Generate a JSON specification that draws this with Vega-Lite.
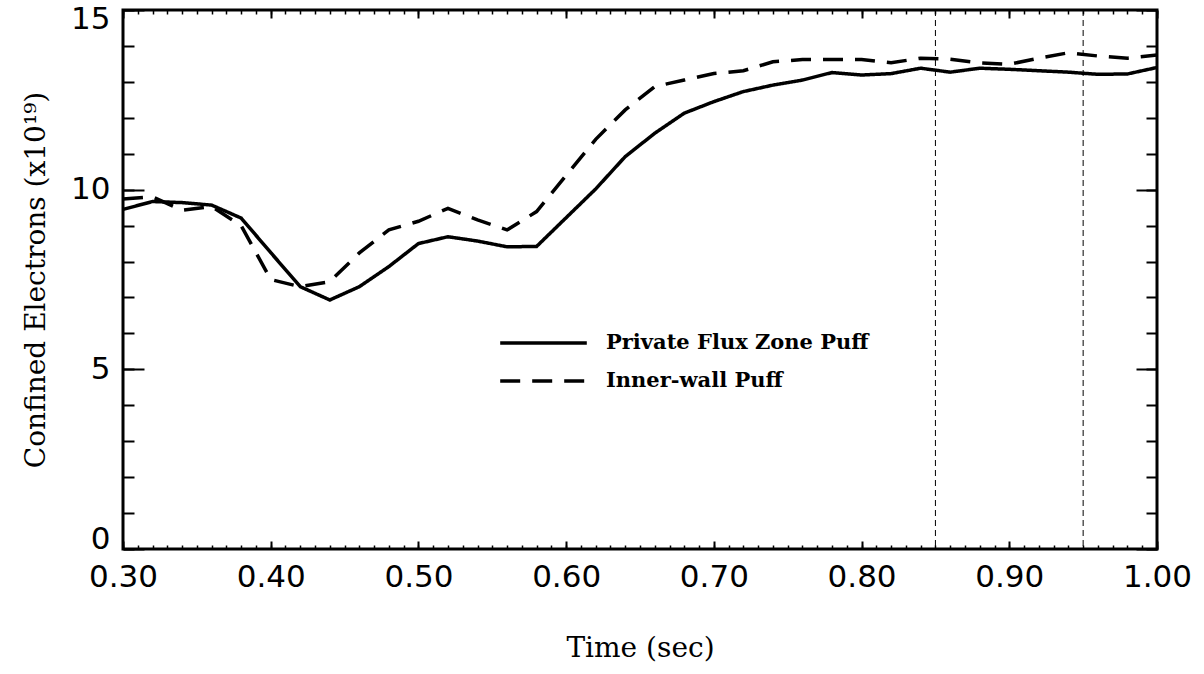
{
  "$schema": "https://vega.github.io/schema/vega-lite/v6.json",
  "width": 1034,
  "height": 539,
  "autosize": {"type": "none"},
  "padding": {"left": 123, "top": 10, "right": 47, "bottom": 125},
  "background": "white",
  "datasets": {
    "series": [
      {"t": 0.30, "n": 9.45, "s": "Private Flux Zone Puff"},
      {"t": 0.32, "n": 9.67, "s": "Private Flux Zone Puff"},
      {"t": 0.34, "n": 9.64, "s": "Private Flux Zone Puff"},
      {"t": 0.36, "n": 9.57, "s": "Private Flux Zone Puff"},
      {"t": 0.38, "n": 9.21, "s": "Private Flux Zone Puff"},
      {"t": 0.40, "n": 8.25, "s": "Private Flux Zone Puff"},
      {"t": 0.42, "n": 7.30, "s": "Private Flux Zone Puff"},
      {"t": 0.44, "n": 6.93, "s": "Private Flux Zone Puff"},
      {"t": 0.46, "n": 7.30, "s": "Private Flux Zone Puff"},
      {"t": 0.48, "n": 7.86, "s": "Private Flux Zone Puff"},
      {"t": 0.50, "n": 8.50, "s": "Private Flux Zone Puff"},
      {"t": 0.52, "n": 8.69, "s": "Private Flux Zone Puff"},
      {"t": 0.54, "n": 8.57, "s": "Private Flux Zone Puff"},
      {"t": 0.56, "n": 8.41, "s": "Private Flux Zone Puff"},
      {"t": 0.58, "n": 8.42, "s": "Private Flux Zone Puff"},
      {"t": 0.60, "n": 9.22, "s": "Private Flux Zone Puff"},
      {"t": 0.62, "n": 10.02, "s": "Private Flux Zone Puff"},
      {"t": 0.64, "n": 10.92, "s": "Private Flux Zone Puff"},
      {"t": 0.66, "n": 11.57, "s": "Private Flux Zone Puff"},
      {"t": 0.68, "n": 12.13, "s": "Private Flux Zone Puff"},
      {"t": 0.70, "n": 12.45, "s": "Private Flux Zone Puff"},
      {"t": 0.72, "n": 12.73, "s": "Private Flux Zone Puff"},
      {"t": 0.74, "n": 12.91, "s": "Private Flux Zone Puff"},
      {"t": 0.76, "n": 13.05, "s": "Private Flux Zone Puff"},
      {"t": 0.78, "n": 13.26, "s": "Private Flux Zone Puff"},
      {"t": 0.80, "n": 13.19, "s": "Private Flux Zone Puff"},
      {"t": 0.82, "n": 13.23, "s": "Private Flux Zone Puff"},
      {"t": 0.84, "n": 13.38, "s": "Private Flux Zone Puff"},
      {"t": 0.86, "n": 13.27, "s": "Private Flux Zone Puff"},
      {"t": 0.88, "n": 13.38, "s": "Private Flux Zone Puff"},
      {"t": 0.90, "n": 13.35, "s": "Private Flux Zone Puff"},
      {"t": 0.92, "n": 13.31, "s": "Private Flux Zone Puff"},
      {"t": 0.94, "n": 13.27, "s": "Private Flux Zone Puff"},
      {"t": 0.96, "n": 13.21, "s": "Private Flux Zone Puff"},
      {"t": 0.98, "n": 13.22, "s": "Private Flux Zone Puff"},
      {"t": 1.00, "n": 13.40, "s": "Private Flux Zone Puff"},
      {"t": 0.30, "n": 9.74, "s": "Inner-wall Puff"},
      {"t": 0.32, "n": 9.80, "s": "Inner-wall Puff"},
      {"t": 0.34, "n": 9.43, "s": "Inner-wall Puff"},
      {"t": 0.36, "n": 9.53, "s": "Inner-wall Puff"},
      {"t": 0.38, "n": 9.00, "s": "Inner-wall Puff"},
      {"t": 0.40, "n": 7.50, "s": "Inner-wall Puff"},
      {"t": 0.42, "n": 7.30, "s": "Inner-wall Puff"},
      {"t": 0.44, "n": 7.44, "s": "Inner-wall Puff"},
      {"t": 0.46, "n": 8.24, "s": "Inner-wall Puff"},
      {"t": 0.48, "n": 8.88, "s": "Inner-wall Puff"},
      {"t": 0.50, "n": 9.12, "s": "Inner-wall Puff"},
      {"t": 0.52, "n": 9.48, "s": "Inner-wall Puff"},
      {"t": 0.54, "n": 9.16, "s": "Inner-wall Puff"},
      {"t": 0.56, "n": 8.88, "s": "Inner-wall Puff"},
      {"t": 0.58, "n": 9.39, "s": "Inner-wall Puff"},
      {"t": 0.60, "n": 10.40, "s": "Inner-wall Puff"},
      {"t": 0.62, "n": 11.40, "s": "Inner-wall Puff"},
      {"t": 0.64, "n": 12.22, "s": "Inner-wall Puff"},
      {"t": 0.66, "n": 12.87, "s": "Inner-wall Puff"},
      {"t": 0.68, "n": 13.05, "s": "Inner-wall Puff"},
      {"t": 0.70, "n": 13.23, "s": "Inner-wall Puff"},
      {"t": 0.72, "n": 13.31, "s": "Inner-wall Puff"},
      {"t": 0.74, "n": 13.56, "s": "Inner-wall Puff"},
      {"t": 0.76, "n": 13.62, "s": "Inner-wall Puff"},
      {"t": 0.78, "n": 13.62, "s": "Inner-wall Puff"},
      {"t": 0.80, "n": 13.62, "s": "Inner-wall Puff"},
      {"t": 0.82, "n": 13.53, "s": "Inner-wall Puff"},
      {"t": 0.84, "n": 13.66, "s": "Inner-wall Puff"},
      {"t": 0.86, "n": 13.63, "s": "Inner-wall Puff"},
      {"t": 0.88, "n": 13.53, "s": "Inner-wall Puff"},
      {"t": 0.90, "n": 13.49, "s": "Inner-wall Puff"},
      {"t": 0.92, "n": 13.66, "s": "Inner-wall Puff"},
      {"t": 0.94, "n": 13.81, "s": "Inner-wall Puff"},
      {"t": 0.96, "n": 13.72, "s": "Inner-wall Puff"},
      {"t": 0.98, "n": 13.66, "s": "Inner-wall Puff"},
      {"t": 1.00, "n": 13.75, "s": "Inner-wall Puff"}
    ],
    "marks": [{"t": 0.85}, {"t": 0.95}]
  },
  "config": {
    "view": {"stroke": "black", "strokeWidth": 3},
    "axis": {
      "grid": false,
      "domain": false,
      "tickColor": "black",
      "tickWidth": 2,
      "labelColor": "black",
      "titleColor": "black"
    }
  },
  "layer": [
    {
      "data": {"name": "series"},
      "mark": {"type": "line", "color": "black", "strokeWidth": 3.5},
      "encoding": {
        "x": {
          "field": "t", "type": "quantitative",
          "scale": {"domain": [0.3, 1.0], "nice": false, "zero": false},
          "axis": {
            "orient": "bottom",
            "values": [0.3, 0.4, 0.5, 0.6, 0.7, 0.8, 0.9, 1.0],
            "format": ".2f",
            "tickSize": -8,
            "labelPadding": 21,
            "labelFont": "DejaVu Sans",
            "labelFontSize": 31,
            "labelFlush": false,
            "labelOverlap": false,
            "title": "Time (sec)",
            "titleFont": "DejaVu Serif",
            "titleFontSize": 28,
            "titleFontWeight": "normal",
            "titlePadding": 42
          }
        },
        "y": {
          "field": "n", "type": "quantitative",
          "scale": {"domain": [0, 15], "nice": false, "zero": true},
          "axis": {
            "orient": "left",
            "values": [0, 5, 10, 15],
            "tickSize": -21,
            "labelPadding": 34,
            "labelFont": "DejaVu Sans",
            "labelFontSize": 31,
            "labelFlush": true,
            "labelFlushOffset": 6,
            "labelOverlap": false,
            "title": "Confined Electrons (x10¹⁹)",
            "titleFont": "DejaVu Serif",
            "titleFontSize": 28,
            "titleFontWeight": "normal",
            "titlePadding": 20
          }
        },
        "strokeDash": {
          "field": "s", "type": "nominal",
          "scale": {
            "domain": ["Private Flux Zone Puff", "Inner-wall Puff"],
            "range": [[1, 0], [20, 12]]
          },
          "legend": {
            "orient": "none",
            "legendX": 375,
            "legendY": 321,
            "title": null,
            "symbolType": "stroke",
            "symbolSize": 7500,
            "symbolStrokeWidth": 3.5,
            "symbolStrokeColor": "black",
            "clipHeight": 24,
            "labelFont": "DejaVu Serif",
            "labelFontSize": 21,
            "labelFontWeight": "bold",
            "labelColor": "black",
            "labelOffset": 17,
            "labelLimit": 500,
            "rowPadding": 14
          }
        }
      }
    },
    {
      "data": {"name": "marks"},
      "mark": {"type": "rule", "color": "black", "strokeWidth": 1, "strokeDash": [6, 4]},
      "encoding": {
        "x": {
          "field": "t", "type": "quantitative",
          "axis": {
            "orient": "bottom",
            "values": [0.30,0.31,0.32,0.33,0.34,0.35,0.36,0.37,0.38,0.39,0.40,0.41,0.42,0.43,0.44,0.45,0.46,0.47,0.48,0.49,0.50,0.51,0.52,0.53,0.54,0.55,0.56,0.57,0.58,0.59,0.60,0.61,0.62,0.63,0.64,0.65,0.66,0.67,0.68,0.69,0.70,0.71,0.72,0.73,0.74,0.75,0.76,0.77,0.78,0.79,0.80,0.81,0.82,0.83,0.84,0.85,0.86,0.87,0.88,0.89,0.90,0.91,0.92,0.93,0.94,0.95,0.96,0.97,0.98,0.99,1.00],
            "tickSize": -4,
            "tickWidth": 1.5,
            "labels": false,
            "title": null
          }
        }
      }
    },
    {
      "data": {"name": "series"},
      "mark": {"type": "point", "opacity": 0},
      "encoding": {
        "x": {
          "field": "t", "type": "quantitative",
          "axis": {
            "orient": "top",
            "values": [0.3, 0.4, 0.5, 0.6, 0.7, 0.8, 0.9, 1.0],
            "tickSize": -8,
            "labels": false,
            "title": null
          }
        },
        "y": {
          "field": "n", "type": "quantitative",
          "axis": {
            "orient": "left",
            "values": [0,1,2,3,4,5,6,7,8,9,10,11,12,13,14,15],
            "tickSize": -11,
            "labels": false,
            "title": null
          }
        }
      }
    },
    {
      "data": {"name": "series"},
      "mark": {"type": "point", "opacity": 0},
      "encoding": {
        "x": {
          "field": "t", "type": "quantitative",
          "axis": {
            "orient": "top",
            "values": [0.30,0.31,0.32,0.33,0.34,0.35,0.36,0.37,0.38,0.39,0.40,0.41,0.42,0.43,0.44,0.45,0.46,0.47,0.48,0.49,0.50,0.51,0.52,0.53,0.54,0.55,0.56,0.57,0.58,0.59,0.60,0.61,0.62,0.63,0.64,0.65,0.66,0.67,0.68,0.69,0.70,0.71,0.72,0.73,0.74,0.75,0.76,0.77,0.78,0.79,0.80,0.81,0.82,0.83,0.84,0.85,0.86,0.87,0.88,0.89,0.90,0.91,0.92,0.93,0.94,0.95,0.96,0.97,0.98,0.99,1.00],
            "tickSize": -4,
            "tickWidth": 1.5,
            "labels": false,
            "title": null
          }
        },
        "y": {
          "field": "n", "type": "quantitative",
          "axis": {
            "orient": "right",
            "values": [0, 5, 10, 15],
            "tickSize": -21,
            "labels": false,
            "title": null
          }
        }
      }
    },
    {
      "data": {"name": "series"},
      "mark": {"type": "point", "opacity": 0},
      "encoding": {
        "x": {"field": "t", "type": "quantitative", "axis": null},
        "y": {
          "field": "n", "type": "quantitative",
          "axis": {
            "orient": "right",
            "values": [0,1,2,3,4,5,6,7,8,9,10,11,12,13,14,15],
            "tickSize": -11,
            "labels": false,
            "title": null
          }
        }
      }
    }
  ],
  "resolve": {"axis": {"x": "independent", "y": "independent"}}
}
